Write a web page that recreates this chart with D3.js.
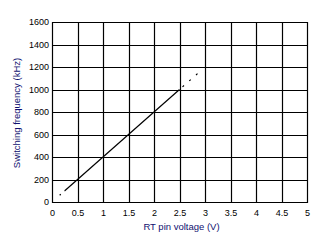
<!DOCTYPE html>
<html>
<head>
<meta charset="utf-8">
<script src="https://cdn.jsdelivr.net/npm/d3@7"></script>
<style>
  body { margin: 0; background: #fff; }
  svg { display: block; font-family: "Liberation Sans", Arial, sans-serif; }
</style>
</head>
<body>
<svg id="chart" width="323" height="243"></svg>
<script>
// measured curve: RT pin voltage (V) vs switching frequency (kHz)
var voltage = [0.25, 0.5, 1, 1.5, 2, 2.5];
var frequency = [100, 200, 400, 600, 800, 1000];
// extrapolated (dotted) ends
var lowVoltage = [0.15, 0.25];
var lowFrequency = [60, 100];
var highVoltage = [2.5, 2.95];
var highFrequency = [1000, 1180];

var xTicks = [0, 0.5, 1, 1.5, 2, 2.5, 3, 3.5, 4, 4.5, 5];
var yTicks = [0, 200, 400, 600, 800, 1000, 1200, 1400, 1600];

var svg = d3.select("#chart"),
    marginLeft = 52,
    marginTop = 22,
    width = 255,
    height = 180;

var xScale = d3.scaleLinear().domain([0, 5]).range([0, width]),
    yScale = d3.scaleLinear().domain([0, 1600]).range([height, 0]);

var g = svg.append("g")
    .attr("transform", "translate(" + marginLeft + "," + marginTop + ")");

// grid lines
g.append("g")
    .selectAll("line")
    .data(xTicks)
    .enter().append("line")
    .attr("x1", function (d) { return Math.round(xScale(d)) + 0.5; })
    .attr("x2", function (d) { return Math.round(xScale(d)) + 0.5; })
    .attr("y1", 0)
    .attr("y2", height + 1)
    .attr("stroke", "#000")
    .attr("stroke-width", 1.2);

g.append("g")
    .selectAll("line")
    .data(yTicks)
    .enter().append("line")
    .attr("y1", function (d) { return Math.round(yScale(d)) + 0.5; })
    .attr("y2", function (d) { return Math.round(yScale(d)) + 0.5; })
    .attr("x1", 0)
    .attr("x2", width + 1)
    .attr("stroke", "#000")
    .attr("stroke-width", 1.2);

// tick labels
var xAxis = d3.axisBottom(xScale).tickValues(xTicks).tickSize(0).tickPadding(8)
    .tickFormat(function (d) { return String(d); });
var yAxis = d3.axisLeft(yScale).tickValues(yTicks).tickSize(0).tickPadding(3)
    .tickFormat(function (d) { return String(d); });

g.append("g")
    .attr("transform", "translate(0," + height + ")")
    .call(xAxis)
    .call(function (a) { a.select(".domain").remove(); })
    .selectAll("text")
    .attr("font-size", 9)
    .attr("font-family", "Liberation Sans, Arial, sans-serif")
    .attr("fill", "#000");

g.append("g")
    .call(yAxis)
    .call(function (a) { a.select(".domain").remove(); })
    .selectAll("text")
    .attr("font-size", 9)
    .attr("font-family", "Liberation Sans, Arial, sans-serif")
    .attr("fill", "#000");

// curve
var line = d3.line()
    .x(function (d) { return xScale(d[0]); })
    .y(function (d) { return yScale(d[1]); });

g.append("path")
    .datum(d3.zip(voltage, frequency))
    .attr("d", line)
    .attr("fill", "none")
    .attr("stroke", "#000")
    .attr("stroke-width", 1.2);

g.append("path")
    .datum(d3.zip(lowVoltage, lowFrequency))
    .attr("d", line)
    .attr("fill", "none")
    .attr("stroke", "#000")
    .attr("stroke-width", 1.2)
    .attr("stroke-dasharray", "1.5,5");

g.append("path")
    .datum(d3.zip(highVoltage, highFrequency))
    .attr("d", line)
    .attr("fill", "none")
    .attr("stroke", "#000")
    .attr("stroke-width", 1.2)
    .attr("stroke-dasharray", "0,4,2,3");

// axis titles
svg.append("text")
    .attr("x", marginLeft + width / 2 + 2)
    .attr("y", 230)
    .attr("text-anchor", "middle")
    .attr("font-size", 9.5)
    .attr("fill", "#101070")
    .text("RT pin voltage (V)");

svg.append("text")
    .attr("transform", "translate(20," + (marginTop + height / 2 + 1) + ") rotate(-90)")
    .attr("text-anchor", "middle")
    .attr("font-size", 9.5)
    .attr("fill", "#101070")
    .text("Switching frequency (kHz)");
</script>
</body>
</html>
